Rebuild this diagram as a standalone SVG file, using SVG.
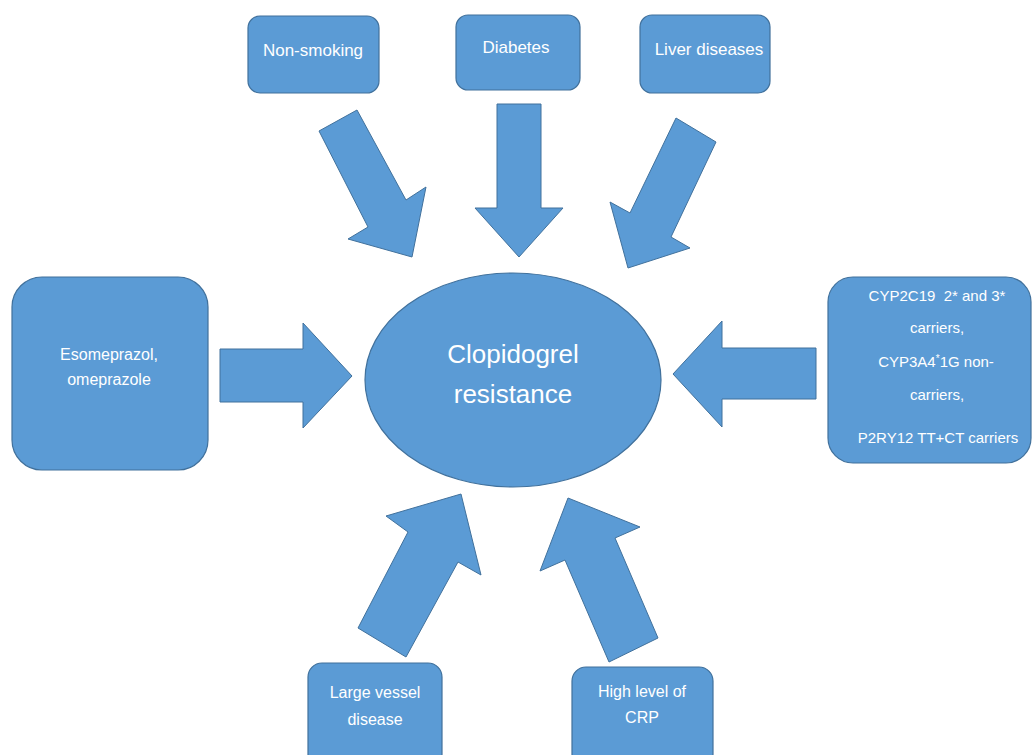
<svg xmlns="http://www.w3.org/2000/svg" width="1033" height="755" viewBox="0 0 1033 755">
  <style>
    .box { fill: #5B9BD5; stroke: #41719C; stroke-width: 1.2; }
    .arrow { fill: #5B9BD5; stroke: #41719C; stroke-width: 1; stroke-linejoin: miter; }
    .t { font-family: "Liberation Sans", Arial, sans-serif; fill: #FFFFFF; text-anchor: middle; }
    .s16 { font-size: 16px; }
    .s17 { font-size: 17px; }
    .s15 { font-size: 15px; }
    .big { font-size: 26px; }
  </style>
  <rect width="1033" height="755" fill="#FFFFFF"/>

  <g id="connectors">
    <polygon class="arrow" points="319,131 357,110 406,200 426,187 412,257 348,239 368,227"/>
    <polygon class="arrow" points="497,104 541,104 541,208 563,208 519,257 475,208 497,208"/>
    <polygon class="arrow" points="676,118 716,142 671,237 690,248 628,268 610,202 630,213"/>
    <polygon class="arrow" points="220,349 303,349 303,323 352,376 303,428 303,402 220,402"/>
    <polygon class="arrow" points="816,348 722,348 722,321 673,374 722,427 722,399 816,399"/>
    <polygon class="arrow" points="406,657 358,628 408,532 386,516 461,494 481,575 458,562"/>
    <polygon class="arrow" points="609,662 658,638 615,538 640,527 568,498 540,571 565,560"/>
  </g>

  <g id="center">
    <ellipse class="box" cx="513" cy="380" rx="148" ry="107"/>
    <text class="t big" x="513" y="363">Clopidogrel</text>
    <text class="t big" x="513" y="403">resistance</text>
  </g>

  <g id="non-smoking">
    <rect class="box" x="248" y="16" width="131" height="77" rx="12"/>
    <text class="t s17" x="313" y="56">Non-smoking</text>
  </g>

  <g id="diabetes">
    <rect class="box" x="456" y="15" width="124" height="75" rx="12"/>
    <text class="t s17" x="516" y="53">Diabetes</text>
  </g>

  <g id="liver">
    <rect class="box" x="640" y="15" width="130" height="78" rx="12"/>
    <text class="t s17" x="709" y="55">Liver diseases</text>
  </g>

  <g id="ppi">
    <rect class="box" x="12" y="277" width="196" height="193" rx="30"/>
    <text class="t s16" x="109" y="360">Esomeprazol,</text>
    <text class="t s16" x="109" y="385">omeprazole</text>
  </g>

  <g id="genetics">
    <rect class="box" x="828" y="277" width="203" height="186" rx="25"/>
    <text class="t s15" x="937" y="301">CYP2C19&#160; 2* and 3*</text>
    <text class="t s15" x="937" y="333">carriers,</text>
    <text class="t s15" x="936" y="367">CYP3A4<tspan dy="-5" font-size="10">*</tspan><tspan dy="5">1G non-</tspan></text>
    <text class="t s15" x="937" y="400">carriers,</text>
    <text class="t s15" x="938" y="443">P2RY12 TT+CT carriers</text>
  </g>

  <g id="large-vessel">
    <rect class="box" x="308" y="663" width="134" height="105" rx="14"/>
    <text class="t s16" x="375" y="698">Large vessel</text>
    <text class="t s16" x="375" y="725">disease</text>
  </g>

  <g id="crp">
    <rect class="box" x="572" y="667" width="141" height="101" rx="14"/>
    <text class="t s16" x="642" y="697">High level of</text>
    <text class="t s16" x="642" y="723">CRP</text>
  </g>
</svg>
